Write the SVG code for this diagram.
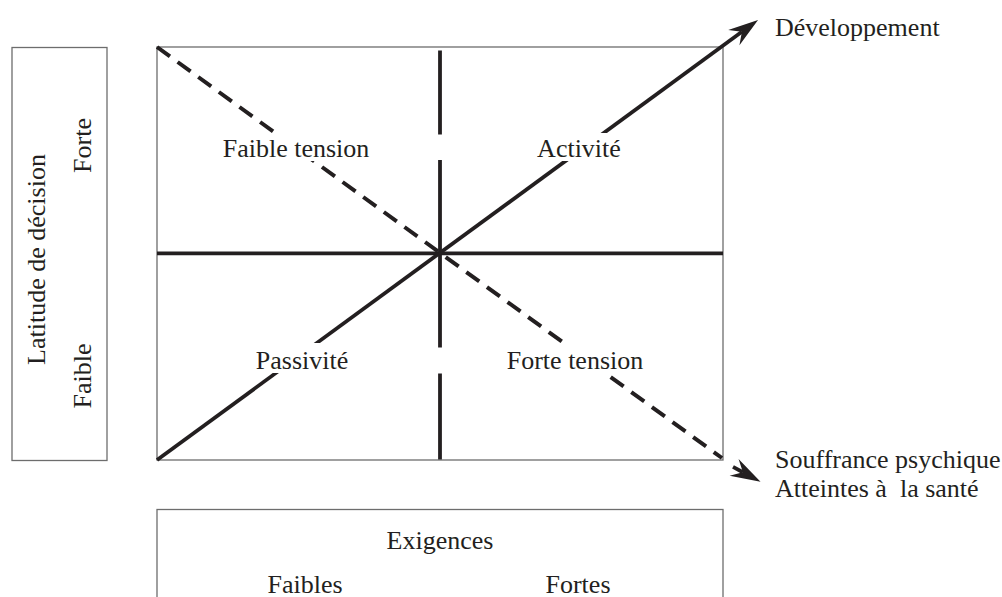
<svg xmlns="http://www.w3.org/2000/svg" width="1002" height="597" viewBox="0 0 1002 597">
  <style>
    .t { font-family: 'Liberation Serif', 'DejaVu Serif', serif; font-size: 26px; fill: #231f20; }
    .box { fill: none; stroke: #6d6d6d; stroke-width: 1.3; }
    .ln { fill: none; stroke: #231f20; stroke-width: 3.8; }
    .dash { fill: none; stroke: #231f20; stroke-width: 4; stroke-dasharray: 16 9.5; }
    .bg { fill: #ffffff; }
  </style>
  <defs>
    <marker id="stealth" markerUnits="userSpaceOnUse" markerWidth="40" markerHeight="30" viewBox="-15 -15 40 30" refX="0" refY="0" orient="auto">
      <path d="M20,0 L-10,-9.5 L0,0 L-10,9.5 Z" fill="#231f20"/>
    </marker>
  </defs>
  <rect width="1002" height="597" fill="#ffffff"/>

  <g id="frame">
    <rect class="box" x="157" y="47" width="566" height="413"/>
  </g>

  <g id="connectors">
    <line class="ln" x1="157" y1="253.3" x2="723" y2="253.3"/>
    <line class="ln" x1="440" y1="50.5" x2="440" y2="134.5"/>
    <line class="ln" x1="440" y1="160" x2="440" y2="347.5"/>
    <line class="ln" x1="440" y1="373.5" x2="440" y2="459.5"/>
    <line class="dash" x1="157" y1="47" x2="722" y2="458"/>
    <line class="ln" x1="157" y1="460" x2="741.9" y2="31.8" marker-end="url(#stealth)"/>
    <line class="ln" x1="733" y1="466.9" x2="742.9" y2="472.2" marker-end="url(#stealth)"/>
  </g>

  <g id="node-faible-tension">
    <rect class="bg" x="221" y="133" width="151" height="28"/>
    <text class="t" x="296" y="157" text-anchor="middle">Faible tension</text>
  </g>
  <g id="node-activite">
    <rect class="bg" x="535" y="133" width="88" height="28"/>
    <text class="t" x="579" y="157" text-anchor="middle">Activité</text>
  </g>
  <g id="node-passivite">
    <rect class="bg" x="254" y="343" width="96" height="30"/>
    <text class="t" x="302" y="369" text-anchor="middle">Passivité</text>
  </g>
  <g id="node-forte-tension">
    <rect class="bg" x="505" y="343" width="140" height="30"/>
    <text class="t" x="575" y="369" text-anchor="middle">Forte tension</text>
  </g>

  <g id="node-developpement">
    <text class="t" x="775" y="35.5">Développement</text>
  </g>
  <g id="node-souffrance">
    <text class="t" x="775" y="468" xml:space="preserve">Souffrance psychique</text>
    <text class="t" x="775" y="497" xml:space="preserve">Atteintes à  la santé</text>
  </g>

  <g id="node-latitude">
    <rect class="box" x="12" y="47.5" width="95" height="413"/>
    <text class="t" transform="translate(45,259.5) rotate(-90)" text-anchor="middle">Latitude de décision</text>
    <text class="t" transform="translate(91,145.5) rotate(-90)" text-anchor="middle">Forte</text>
    <text class="t" transform="translate(91,376) rotate(-90)" text-anchor="middle">Faible</text>
  </g>

  <g id="node-exigences">
    <rect class="box" x="157" y="509.5" width="566" height="120"/>
    <text class="t" x="440" y="549" text-anchor="middle">Exigences</text>
    <text class="t" x="305" y="593" text-anchor="middle">Faibles</text>
    <text class="t" x="578" y="593" text-anchor="middle">Fortes</text>
  </g>
</svg>
